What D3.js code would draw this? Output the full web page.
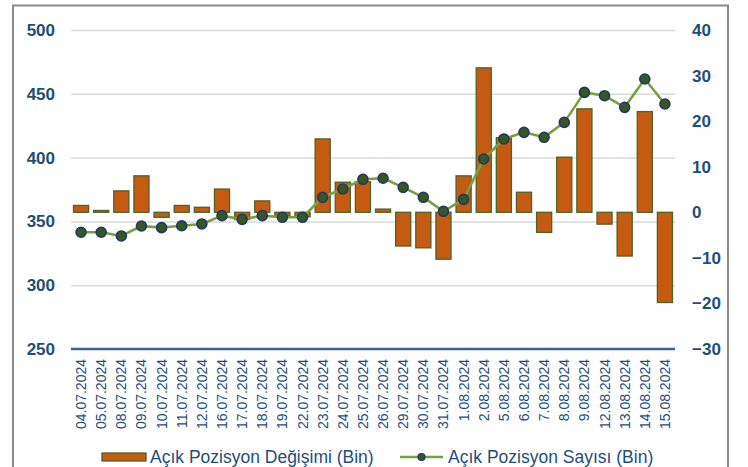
<!DOCTYPE html>
<html>
<head>
<meta charset="utf-8">
<script src="https://cdn.jsdelivr.net/npm/d3@7"></script>
<style>
  html, body { margin: 0; padding: 0; background: #fff; }
  svg { display: block; font-family: "Liberation Sans", Arial, sans-serif; }
</style>
</head>
<body>
<svg id="chart" width="748" height="467"></svg>
<script>
const dates = ["04.07.2024","05.07.2024","08.07.2024","09.07.2024","10.07.2024","11.07.2024","12.07.2024","16.07.2024","17.07.2024","18.07.2024","19.07.2024","22.07.2024","23.07.2024","24.07.2024","25.07.2024","26.07.2024","29.07.2024","30.07.2024","31.07.2024","1.08.2024","2.08.2024","5.08.2024","6.08.2024","7.08.2024","8.08.2024","9.08.2024","12.08.2024","13.08.2024","14.08.2024","15.08.2024"];
const positionChange = [1.5, 0.4, 4.7, 8.0, -1.1, 1.5, 1.1, 5.1, -1.6, 2.5, -0.8, -1.0, 16.1, 6.6, 6.7, 0.7, -7.4, -7.8, -10.3, 8.0, 31.7, 16.4, 4.4, -4.4, 12.1, 22.7, -2.6, -9.6, 22.1, -19.8];
const positionCount = [341.5, 341.5, 338.6, 346.4, 345.1, 346.6, 348.0, 354.5, 351.6, 354.5, 353.2, 353.2, 368.9, 375.4, 383.0, 383.8, 376.7, 368.9, 357.9, 367.3, 398.9, 414.6, 419.8, 415.9, 427.6, 451.1, 448.5, 439.4, 461.6, 442.0];
const leftTicks = [250, 300, 350, 400, 450, 500];
const rightTicks = [-30, -20, -10, 0, 10, 20, 30, 40];
const legendLabels = ["Açık Pozisyon Değişimi (Bin)", "Açık Pozisyon Sayısı (Bin)"];

const svg = d3.select("#chart");
const plot = { left: 71, right: 675, top: 30, bottom: 349 };
const textColor = "#1f4e79";

// Frame
svg.append("path")
  .attr("d", `M13,467 V5.5 H728 V467`)
  .attr("fill", "none").attr("stroke", "#8a8a8a").attr("stroke-width", 2);

const x = d3.scaleBand().domain(dates).range([plot.left, plot.right]).paddingInner(0.25).paddingOuter(0.125);
const yL = d3.scaleLinear().domain([250, 500]).range([plot.bottom, plot.top]);
const yR = d3.scaleLinear().domain([-30, 40]).range([plot.bottom, plot.top]);

// Gridlines (left axis)
const gridAxis = d3.axisLeft(yL).tickValues(leftTicks.filter(d => d !== 250)).tickSize(-(plot.right - plot.left)).tickFormat("");
const grid = svg.append("g").attr("transform", `translate(${plot.left},0)`).call(gridAxis);
grid.select(".domain").remove();
grid.selectAll("line").attr("stroke", "#d9d9d9").attr("stroke-width", 1.5);

// Left tick labels
const leftAxis = d3.axisLeft(yL).tickValues(leftTicks).tickSize(0).tickPadding(0);
const lg = svg.append("g").attr("transform", `translate(55,0)`).call(leftAxis);
lg.select(".domain").remove();
lg.selectAll("text").attr("fill", textColor).attr("font-size", 17).attr("font-weight", "bold")
  .attr("font-family", "'Liberation Sans', Arial, sans-serif");

// Right tick labels
const rightAxis = d3.axisRight(yR).tickValues(rightTicks).tickSize(0).tickPadding(0);
const rg = svg.append("g").attr("transform", `translate(692,0)`).call(rightAxis);
rg.select(".domain").remove();
rg.selectAll("text").attr("fill", textColor).attr("font-size", 17).attr("font-weight", "bold")
  .attr("font-family", "'Liberation Sans', Arial, sans-serif");

// Bars
svg.append("g").selectAll("rect").data(positionChange).join("rect")
  .attr("x", (d, i) => x(dates[i]))
  .attr("width", x.bandwidth())
  .attr("y", d => Math.min(yR(0), yR(d)))
  .attr("height", d => Math.abs(yR(d) - yR(0)))
  .attr("fill", "#c55a11")
  .attr("stroke", "#4f6228").attr("stroke-width", 1.3);

// Line
const line = d3.line().x((d, i) => x(dates[i]) + x.bandwidth() / 2).y(d => yL(d));
svg.append("path").datum(positionCount).attr("d", line)
  .attr("fill", "none").attr("stroke", "#77a043").attr("stroke-width", 2.6).attr("stroke-linejoin", "round");
svg.append("g").selectAll("circle").data(positionCount).join("circle")
  .attr("cx", (d, i) => x(dates[i]) + x.bandwidth() / 2)
  .attr("cy", d => yL(d))
  .attr("r", 5)
  .attr("fill", "#375623").attr("stroke", "#203864").attr("stroke-width", 1.6);

// Bottom axis line
svg.append("line").attr("x1", plot.left).attr("x2", plot.right)
  .attr("y1", yL(250)).attr("y2", yL(250))
  .attr("stroke", "#3a6591").attr("stroke-width", 2.5);

// X labels
const xAxis = d3.axisBottom(x).tickSize(0).tickPadding(0);
const xg = svg.append("g").attr("transform", `translate(0,${plot.bottom})`).call(xAxis);
xg.select(".domain").remove();
xg.selectAll("text")
  .attr("fill", textColor).attr("font-size", 14)
  .attr("font-family", "'Liberation Sans', Arial, sans-serif")
  .attr("text-anchor", "end").attr("dy", null).attr("y", null)
  .attr("transform", "translate(5,10) rotate(-90)");

// Legend
const leg = svg.append("g");
leg.append("rect").attr("x", 102).attr("y", 453).attr("width", 44).attr("height", 8)
  .attr("fill", "#c55a11").attr("stroke", "#4f6228").attr("stroke-width", 1.3);
leg.append("text").attr("x", 150).attr("y", 463).text(legendLabels[0])
  .attr("fill", textColor).attr("font-size", 17.5);
leg.append("line").attr("x1", 400).attr("x2", 443).attr("y1", 457).attr("y2", 457)
  .attr("stroke", "#77a043").attr("stroke-width", 2.6);
leg.append("circle").attr("cx", 421.5).attr("cy", 457).attr("r", 3.5)
  .attr("fill", "#375623").attr("stroke", "#203864").attr("stroke-width", 1.2);
leg.append("text").attr("x", 448).attr("y", 463).text(legendLabels[1])
  .attr("fill", textColor).attr("font-size", 17.5);
</script>
</body>
</html>
